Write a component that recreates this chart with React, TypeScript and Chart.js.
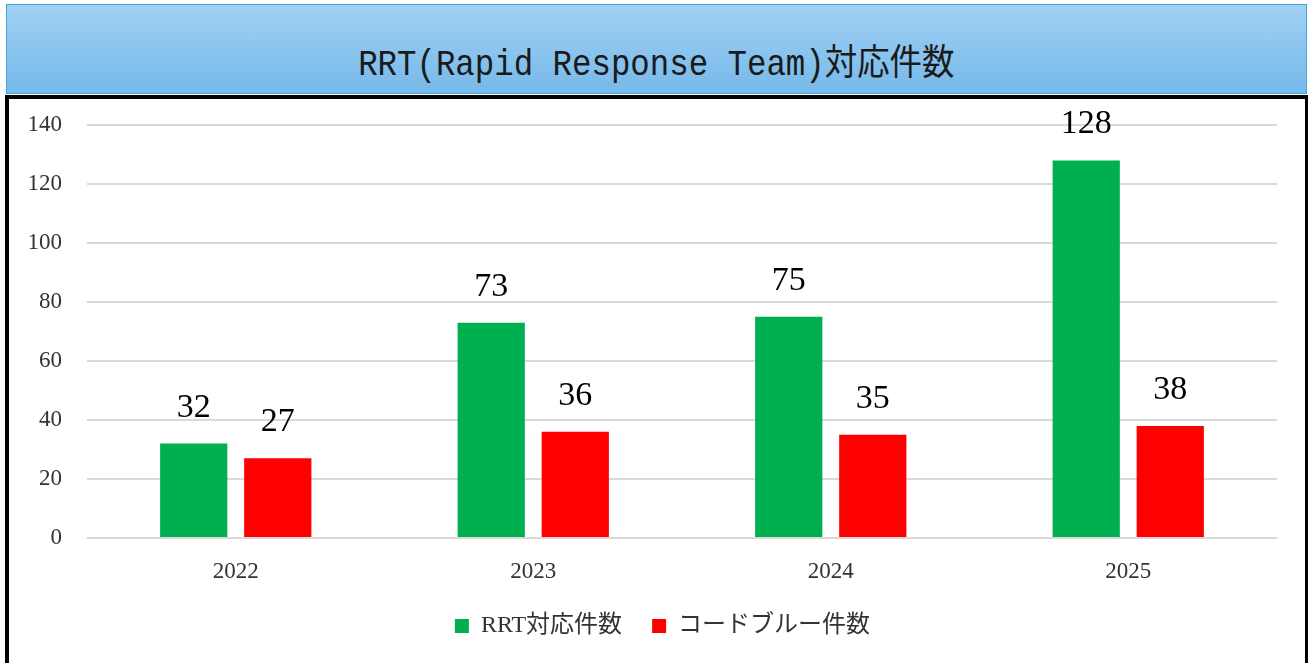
import React, { useEffect, useRef } from "react";
import { Chart, registerables } from "chart.js";

Chart.register(...registerables);

const titleText = "RRT(Rapid Response Team)対応件数";
const categories = ["2022", "2023", "2024", "2025"];
const rrtLabel = "RRT対応件数";
const rrtValues = [32, 73, 75, 128];
const codeBlueLabel = "コードブルー件数";
const codeBlueValues = [27, 36, 35, 38];
const yMin = 0;
const yMax = 140;
const yStep = 20;

const GREEN = "#00B050";
const RED = "#FF0000";
const SERIF = '"Liberation Serif", "Noto Sans CJK JP", serif';

const valueLabels = {
  id: "valueLabels",
  afterDatasetsDraw(chart: any) {
    const ctx = chart.ctx;
    ctx.save();
    ctx.font = '34px "Liberation Serif", serif';
    ctx.fillStyle = "#000000";
    ctx.textAlign = "center";
    ctx.textBaseline = "alphabetic";
    chart.data.datasets.forEach((ds: any, di: number) => {
      const meta = chart.getDatasetMeta(di);
      meta.data.forEach((bar: any, i: number) => {
        ctx.fillText(String(ds.data[i]), bar.x, bar.y - 27);
      });
    });
    ctx.restore();
  },
};

const legendShift = {
  id: "legendShift",
  afterLayout(chart: any) {
    if (chart.legend) {
      chart.legend.left += 24;
      chart.legend.right += 24;
    }
  },
};

export default function App() {
  const canvasRef = useRef<HTMLCanvasElement | null>(null);

  useEffect(() => {
    if (!canvasRef.current) return;
    const chart = new Chart(canvasRef.current, {
      type: "bar",
      data: {
        labels: categories,
        datasets: [
          {
            label: rrtLabel,
            data: rrtValues,
            backgroundColor: GREEN,
            borderWidth: 0,
            categoryPercentage: 0.565,
            barPercentage: 0.8,
          },
          {
            label: codeBlueLabel,
            data: codeBlueValues,
            backgroundColor: RED,
            borderWidth: 0,
            categoryPercentage: 0.565,
            barPercentage: 0.8,
          },
        ],
      },
      options: {
        responsive: false,
        maintainAspectRatio: false,
        animation: false,
        layout: { padding: { left: 0, top: 125, right: 31, bottom: 15 } },
        plugins: {
          tooltip: { enabled: false },
          title: { display: false },
          legend: {
            position: "bottom",
            labels: {
              boxWidth: 14,
              boxHeight: 14,
              padding: 30,
              color: "#333333",
              font: { size: 24, family: SERIF },
            },
          },
        },
        scales: {
          x: {
            grid: { display: false, drawTicks: false },
            border: { display: false },
            ticks: {
              padding: 20,
              color: "#333333",
              font: { size: 23, family: SERIF },
            },
            afterFit: (scale: any) => {
              scale.height = 46;
            },
          },
          y: {
            min: yMin,
            max: yMax,
            grid: { color: "#d9d9d9", lineWidth: 2, drawTicks: false },
            border: { display: false },
            ticks: {
              stepSize: yStep,
              padding: 25,
              color: "#333333",
              font: { size: 23, family: SERIF },
            },
            afterFit: (scale: any) => {
              scale.width = 87;
            },
          },
        },
      },
      plugins: [valueLabels, legendShift],
    });
    return () => chart.destroy();
  }, []);

  return (
    <div
      style={{
        position: "fixed",
        left: 0,
        top: 0,
        width: 1308,
        height: 663,
        overflow: "hidden",
        background: "#ffffff",
      }}
    >
      <div
        style={{
          position: "absolute",
          left: 5,
          top: 95,
          width: 1303,
          height: 700,
          boxSizing: "border-box",
          border: "4px solid #000000",
          borderRight: "3px solid #000000",
        }}
      />
      <div
        style={{
          position: "absolute",
          left: 6,
          top: 4,
          width: 1301,
          height: 90,
          boxSizing: "border-box",
          border: "1px solid #3fa9df",
          background: "linear-gradient(#a1d1f5, #76b9e9)",
        }}
      />
      <div
        style={{
          position: "absolute",
          left: 0,
          top: 48,
          width: 1313,
          height: 36,
          lineHeight: "36px",
          textAlign: "center",
          fontFamily: '"Liberation Mono", "Noto Sans CJK JP", monospace',
          fontSize: 36,
          color: "#1a1a1a",
          whiteSpace: "nowrap",
        }}
      >
        <span style={{ display: "inline-block", transform: "scaleX(0.9)" }}>{titleText}</span>
      </div>
      <canvas
        ref={canvasRef}
        width={1308}
        height={663}
        style={{ position: "absolute", left: 0, top: 0, width: 1308, height: 663 }}
      />
    </div>
  );
}
